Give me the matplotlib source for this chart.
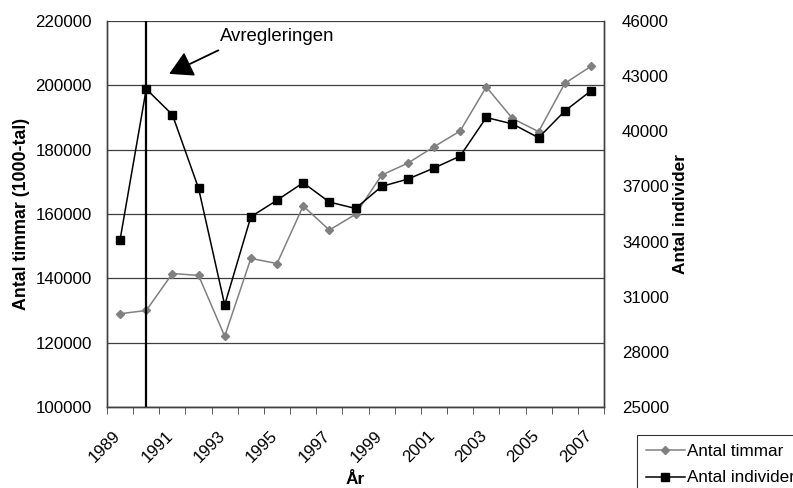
import numpy as np
import matplotlib.pyplot as plt
import matplotlib.transforms as mtransforms

plt.rcParams['font.family'] = ['Liberation Sans', 'DejaVu Sans']

# Data
years = list(range(1989, 2008))
timmar = [129000, 130000, 141500, 140900, 122000, 146200, 144600, 162500, 155000,
          159900, 172100, 175800, 180900, 185800, 199500, 189700, 185600, 200600, 205900]
individer = [34100, 42300, 40900, 36900, 30550, 35350, 36250, 37200, 36150,
             35800, 37000, 37400, 38000, 38650, 40750, 40400, 39650, 41100, 42200]
left_ticks = [100000, 120000, 140000, 160000, 180000, 200000, 220000]
right_ticks = [25000, 28000, 31000, 34000, 37000, 40000, 43000, 46000]
reform_year = 1990

fig = plt.figure(figsize=(7.93, 4.88), dpi=100)
ax = fig.add_axes([107 / 793, 1 - 407 / 488, 497 / 793, 386 / 488])
ax2 = ax.twinx()

x = np.arange(len(years))

# Gridlines
for v in left_ticks:
    ax.axhline(v, color='#404040', lw=0.9, zorder=0)

l1, = ax.plot(x, timmar, color='#808080', lw=1.1, marker='D', ms=4.5,
              mfc='#808080', mec='#808080', zorder=3, label='Antal timmar')
l2, = ax2.plot(x, individer, color='black', lw=1.1, marker='s', ms=5.3,
               mfc='black', mec='black', zorder=3, label='Antal individer')

ax.set_xlim(-0.5, len(years) - 0.5)
ax.set_ylim(left_ticks[0], left_ticks[-1])
ax2.set_ylim(right_ticks[0], right_ticks[-1])
ax.set_yticks(left_ticks)
ax.set_yticklabels([str(v) for v in left_ticks], fontsize=12.2)
ax2.set_yticks(right_ticks)
ax2.set_yticklabels([str(v) for v in right_ticks], fontsize=12.2)
ax.tick_params(axis='y', length=0, pad=11)
ax2.tick_params(axis='y', length=0, pad=13)

# Category ticks between years, labels every second year
ax.set_xticks(x[::2])
ax.set_xticklabels([str(y) for y in years[::2]], rotation=45, ha='right',
                   rotation_mode='anchor', fontsize=12.2)
ax.set_xticks(np.arange(-0.5, len(years)), minor=True)
ax.tick_params(axis='x', which='major', length=0, pad=15)
ax.tick_params(axis='x', which='minor', length=5, color='#404040')
shift = mtransforms.ScaledTranslation(-7 / 100, 0, fig.dpi_scale_trans)
for lbl in ax.get_xticklabels():
    lbl.set_transform(lbl.get_transform() + shift)

for a in (ax, ax2):
    for s in a.spines.values():
        s.set_color('#404040')
        s.set_linewidth(1.0)
ax2.spines['top'].set_visible(False)
ax.spines['top'].set_visible(False)

# Reform line and annotation
ri = years.index(reform_year)
ax.axvline(ri, color='black', lw=1.6, zorder=4)
ax.text(0.227, 0.961, 'Avregleringen', transform=ax.transAxes, fontsize=13.4,
        ha='left', va='center')
ax.annotate('', xy=(0.125, 0.863), xytext=(0.224, 0.924),
            xycoords='axes fraction', textcoords='axes fraction',
            arrowprops=dict(arrowstyle='-|>,head_length=0.8,head_width=0.45',
                            color='black', lw=1.3, mutation_scale=18,
                            shrinkA=0, shrinkB=0))

ax.set_ylabel('Antal timmar (1000-tal)', fontsize=12.8, fontweight='bold', labelpad=4)
ax2.set_ylabel('Antal individer', fontsize=12.4, fontweight='bold', labelpad=3)
ax.set_xlabel('År', fontsize=12.4, fontweight='bold', labelpad=5)

leg = fig.legend(handles=[l1, l2], loc='upper left', bbox_to_anchor=(637 / 793, 1 - 435 / 488),
                 fontsize=12.3, frameon=True, fancybox=False, edgecolor='black',
                 handlelength=2.3, handletextpad=0.1, borderpad=0.5, borderaxespad=0,
                 labelspacing=0.7)
leg.get_frame().set_linewidth(0.8)

fig.savefig('out.png', dpi=100)
